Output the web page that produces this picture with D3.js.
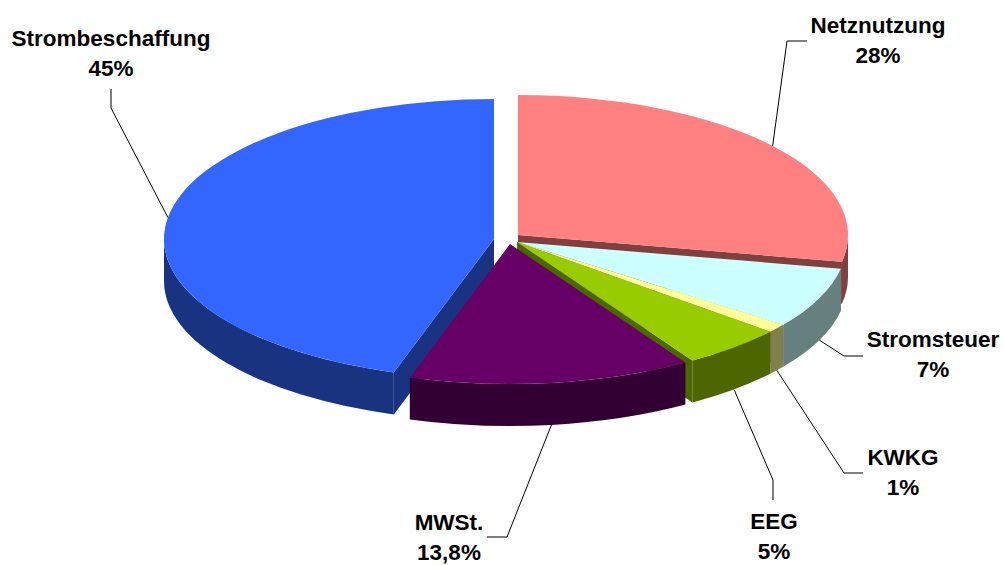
<!DOCTYPE html>
<html>
<head>
<meta charset="utf-8">
<script src="https://cdn.jsdelivr.net/npm/d3@7"></script>
<style>
  html, body { margin: 0; padding: 0; background: #ffffff; }
  svg { display: block; }
  text { font-family: "Liberation Sans", Arial, sans-serif; font-weight: bold; font-size: 22.5px; fill: #000; }
</style>
</head>
<body>
<svg id="chart" width="1004" height="565"></svg>
<script>
// ---- data ----
const categories = ["Netznutzung", "Stromsteuer", "KWKG", "EEG", "MWSt.", "Strombeschaffung"];
const values = [28, 7, 1, 5, 13.8, 45];
const valueLabels = ["28%", "7%", "1%", "5%", "13,8%", "45%"];

// ---- styles ----
const topColors = ["#FF8080", "#CCFFFF", "#FFFF99", "#99CC00", "#660066", "#3366FF"];

// ---- layout ----
const W = 1004, H = 565;
const cx = 517, cy = 242, rx = 330, ry = 140, depth = 42;
// explode offsets (px) per slice
const explode = [[1, -7], [0, 0], [0, 0], [0, 0], [-7, 2], [-23, -3]];
// label layout: text centre x, first baseline y, leader elbow and end points
const labelLayout = [
  { tx: 878, ty: 33,  pts: [[787, 41], [807, 41]] },
  { tx: 933, ty: 347, pts: [[844, 356], [863, 356]] },
  { tx: 903, ty: 465, pts: [[844, 473], [863, 473]] },
  { tx: 774, ty: 529, pts: [[773, 480], [773, 500]] },
  { tx: 449, ty: 530, pts: [[507, 537], [487, 537]] },
  { tx: 111, ty: 46,  pts: [[111, 108], [111, 89]] }
];

const svg = d3.select("#chart");
const pie = d3.pie().sort(null).value(d => d).startAngle(0).endAngle(2 * Math.PI);
const arcs = pie(values);

const shade = c => { const k = d3.rgb(c); return d3.rgb(k.r * 0.5, k.g * 0.5, k.b * 0.5).toString(); };

function rim(i, a, dz = 0) {
  const [ox, oy] = explode[i];
  return [cx + ox + rx * Math.sin(a), cy + oy - ry * Math.cos(a) + dz];
}
function vertex(i, dz = 0) {
  const [ox, oy] = explode[i];
  return [cx + ox, cy + oy + dz];
}

function topPath(i, a0, a1) {
  const v = vertex(i), p0 = rim(i, a0), p1 = rim(i, a1);
  const large = (a1 - a0) > Math.PI ? 1 : 0;
  return `M${v[0]},${v[1]}L${p0[0]},${p0[1]}A${rx},${ry} 0 ${large} 1 ${p1[0]},${p1[1]}Z`;
}
function wallPath(i, a0, a1) {
  const b0 = Math.max(a0, Math.PI / 2), b1 = Math.min(a1, 3 * Math.PI / 2);
  if (b1 <= b0) return null;
  const p0 = rim(i, b0), p1 = rim(i, b1), q1 = rim(i, b1, depth), q0 = rim(i, b0, depth);
  return `M${p0[0]},${p0[1]}A${rx},${ry} 0 0 1 ${p1[0]},${p1[1]}L${q1[0]},${q1[1]}A${rx},${ry} 0 0 0 ${q0[0]},${q0[1]}Z`;
}
function cutPath(i, a) {
  const v = vertex(i), p = rim(i, a), q = rim(i, a, depth), w = vertex(i, depth);
  return `M${v[0]},${v[1]}L${p[0]},${p[1]}L${q[0]},${q[1]}L${w[0]},${w[1]}Z`;
}

const gCut = svg.append("g"), gWall = svg.append("g"), gTop = svg.append("g");

arcs.forEach((d, i) => {
  const side = shade(topColors[i]);
  if (Math.sin(d.endAngle) > 0.01)
    gCut.append("path").attr("d", cutPath(i, d.endAngle)).attr("fill", side);
  if (Math.sin(d.startAngle) < -0.01)
    gCut.append("path").attr("d", cutPath(i, d.startAngle)).attr("fill", side);
  const wp = wallPath(i, d.startAngle, d.endAngle);
  if (wp) gWall.append("path").attr("d", wp).attr("fill", side);
  gTop.append("path").attr("d", topPath(i, d.startAngle, d.endAngle)).attr("fill", topColors[i]);
});

// ---- labels & leaders ----
const gLab = svg.append("g");
arcs.forEach((d, i) => {
  const mid = (d.startAngle + d.endAngle) / 2;
  const front = Math.cos(mid) < 0;
  const anchor = rim(i, mid, front ? depth : 0);
  const L = labelLayout[i];
  const pts = [anchor, ...L.pts];
  gLab.append("path")
    .attr("d", d3.line()(pts))
    .attr("fill", "none").attr("stroke", "#000").attr("stroke-width", 1);
  gLab.append("text").attr("x", L.tx).attr("y", L.ty).attr("text-anchor", "middle").text(categories[i]);
  gLab.append("text").attr("x", L.tx).attr("y", L.ty + 30).attr("text-anchor", "middle").text(valueLabels[i]);
});
</script>
</body>
</html>
